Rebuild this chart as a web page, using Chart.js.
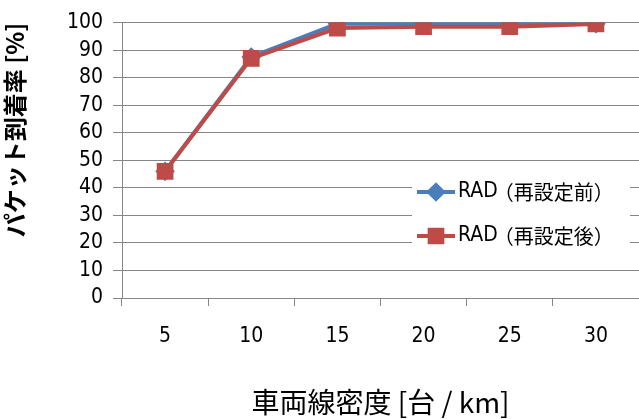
<!DOCTYPE html>
<html>
<head>
<meta charset="utf-8">
<script src="https://cdn.jsdelivr.net/npm/chart.js@4"></script>
<style>
  body { margin: 0; background: #fff; }
  #wrap { width: 639px; height: 419px; }
</style>
</head>
<body>
<div id="wrap"><canvas id="chart" width="639" height="419"></canvas></div>
<script>
const densities = ['5', '10', '15', '20', '25', '30'];
const beforeReset = [46, 87.5, 99.6, 99.6, 99.6, 99.6];
const afterReset = [46, 87, 98, 98.5, 98.5, 99.5];
const seriesNames = ['RAD（再設定前）', 'RAD（再設定後）'];

const jpFont = '"Noto Sans CJK JP", "Noto Sans", sans-serif';
const numFont = '"Liberation Sans Narrow", "DejaVu Sans Condensed", "Noto Sans", sans-serif';

// legend drawn inside the plot, on a white box
const insideLegend = {
    id: 'insideLegend',
    afterDatasetsDraw(chart) {
        const ctx = chart.ctx;
        ctx.save();
        ctx.fillStyle = '#ffffff';
        ctx.fillRect(412, 176, 218, 72);
        const rows = [192, 236];
        chart.data.datasets.forEach((ds, i) => {
            const y = rows[i];
            ctx.strokeStyle = ds.borderColor;
            ctx.lineWidth = ds.borderWidth;
            ctx.beginPath();
            ctx.moveTo(417, y);
            ctx.lineTo(455, y);
            ctx.stroke();
            Chart.helpers.drawPoint(ctx, {
                pointStyle: ds.pointStyle,
                radius: ds.pointRadius,
                borderWidth: 1
            }, 436, y);
            ctx.fillStyle = ds.pointBackgroundColor;
            ctx.fill();
            ctx.fillStyle = '#000';
            ctx.textBaseline = 'middle';
            ctx.font = '21px ' + numFont;
            ctx.fillText('RAD', 458, y);
            const w = ctx.measureText('RAD').width;
            ctx.font = '20px ' + jpFont;
            ctx.fillText(ds.label.slice(3), 458 + w - 4, y);
        });
        ctx.restore();
    }
};

new Chart(document.getElementById('chart').getContext('2d'), {
    type: 'line',
    data: {
        labels: densities,
        datasets: [{
            label: seriesNames[0],
            data: beforeReset,
            order: 2,
            borderColor: '#4a7ebb',
            backgroundColor: '#4a7ebb',
            pointBackgroundColor: '#4a7ebb',
            pointBorderColor: '#4a7ebb',
            borderWidth: 4,
            pointStyle: 'rectRot',
            pointRadius: 7,
            tension: 0
        }, {
            label: seriesNames[1],
            data: afterReset,
            order: 1,
            borderColor: '#be4b48',
            backgroundColor: '#be4b48',
            pointBackgroundColor: '#be4b48',
            pointBorderColor: '#be4b48',
            borderWidth: 4,
            pointStyle: 'rect',
            pointRadius: 9,
            tension: 0
        }]
    },
    options: {
        responsive: false,
        animation: false,
        layout: { autoPadding: false, padding: { top: 21, right: 0, left: 0, bottom: 0 } },
        plugins: {
            legend: { display: false },
            tooltip: { enabled: false }
        },
        scales: {
            x: {
                offset: true,
                grid: {
                    offset: true,
                    drawOnChartArea: false,
                    tickLength: 8,
                    color: '#868686'
                },
                border: { color: '#868686', width: 1 },
                ticks: {
                    color: '#000',
                    padding: 18,
                    font: { family: numFont, size: 21 }
                },
                title: {
                    display: true,
                    text: '車両線密度 [台 / km]',
                    color: '#000',
                    font: { family: jpFont, size: 28 },
                    padding: { top: 0, bottom: 0 }
                },
                afterFit(scale) { scale.height = 121; }
            },
            y: {
                min: 0,
                max: 100,
                ticks: {
                    stepSize: 10,
                    autoSkip: false,
                    color: '#000',
                    padding: 10,
                    font: { family: numFont, size: 21 }
                },
                grid: {
                    color: '#868686',
                    tickLength: 9
                },
                border: { color: '#868686', width: 1 },
                title: {
                    display: true,
                    text: 'パケット到着率 [%]',
                    align: 'end',
                    color: '#000',
                    font: { family: jpFont, size: 24, weight: 'bold' },
                    padding: { top: 0, bottom: 0 }
                },
                afterFit(scale) { scale.width = 122; }
            }
        }
    },
    plugins: [insideLegend]
});
</script>
</body>
</html>
